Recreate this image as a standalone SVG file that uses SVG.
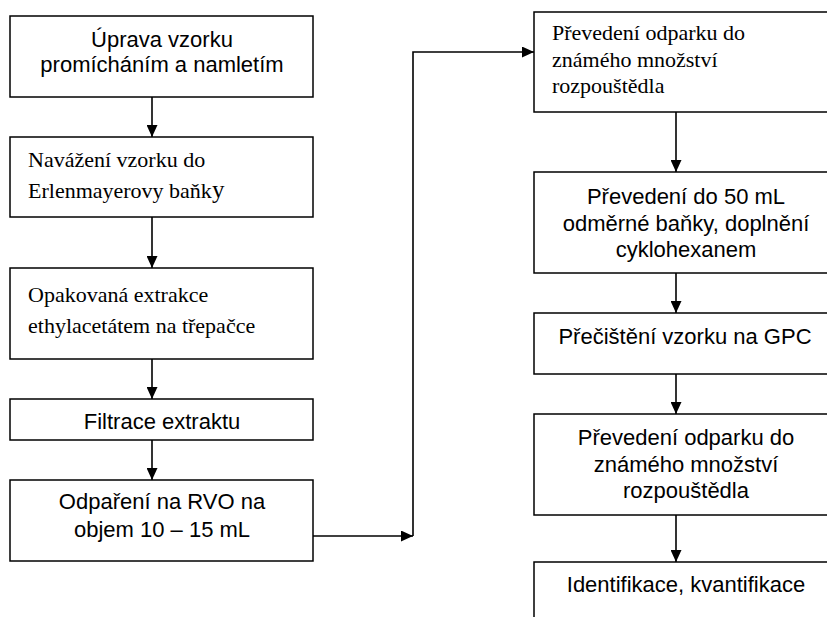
<svg xmlns="http://www.w3.org/2000/svg" width="827" height="617" viewBox="0 0 827 617">
<defs>
<style>
.box{fill:#fff;stroke:#000;stroke-width:1.5}
.conn{fill:none;stroke:#000;stroke-width:1.6}
.sans{font-family:"Liberation Sans",Arial,sans-serif;font-size:22px;fill:#000;text-anchor:middle}
.serif{font-family:"Liberation Serif","Times New Roman",serif;font-size:22px;fill:#000}
</style>
<marker id="arr" markerWidth="12" markerHeight="11" refX="12" refY="5.5" orient="auto" markerUnits="userSpaceOnUse">
<path d="M0,0 L12,5.5 L0,11 Z" fill="#000"/>
</marker>
</defs>
<rect width="827" height="617" fill="#fff"/>
<g id="connectors">
<line class="conn" x1="152" y1="97" x2="152" y2="137" marker-end="url(#arr)"/>
<line class="conn" x1="152" y1="217" x2="152" y2="268" marker-end="url(#arr)"/>
<line class="conn" x1="152" y1="359" x2="152" y2="399" marker-end="url(#arr)"/>
<line class="conn" x1="152" y1="440" x2="152" y2="480" marker-end="url(#arr)"/>
<polyline class="conn" points="313,536 413,536" marker-end="url(#arr)"/>
<polyline class="conn" points="413,536 413,52 534,52" marker-end="url(#arr)"/>
<line class="conn" x1="676" y1="112" x2="676" y2="172" marker-end="url(#arr)"/>
<line class="conn" x1="676" y1="273" x2="676" y2="313" marker-end="url(#arr)"/>
<line class="conn" x1="676" y1="374" x2="676" y2="414" marker-end="url(#arr)"/>
<line class="conn" x1="676" y1="515" x2="676" y2="562" marker-end="url(#arr)"/>
</g>
<g id="n1">
<rect class="box" x="10" y="16" width="303" height="81"/>
<text class="sans" x="162" y="47">Úprava vzorku</text>
<text class="sans" x="162" y="72">promícháním a namletím</text>
</g>
<g id="n2">
<rect class="box" x="10" y="137" width="303" height="80"/>
<text class="serif" x="28" y="167">Navážení vzorku do</text>
<text class="serif" x="28" y="198">Erlenmayerovy baňk<tspan font-size="25">y</tspan></text>
</g>
<g id="n3">
<rect class="box" x="10" y="268" width="303" height="91"/>
<text class="serif" x="28" y="302">Opakovaná extrakce</text>
<text class="serif" x="28" y="333">ethylacetátem na třepačce</text>
</g>
<g id="n4">
<rect class="box" x="10" y="399" width="303" height="41"/>
<text class="sans" x="162" y="429">Filtrace extraktu</text>
</g>
<g id="n5">
<rect class="box" x="10" y="480" width="303" height="81"/>
<text class="sans" x="162" y="509">Odpaření na RVO na</text>
<text class="sans" x="162" y="537">objem 10 – 15 mL</text>
</g>
<g id="n6">
<rect class="box" x="534" y="12" width="303" height="100"/>
<text class="serif" x="552" y="40">Převedení odparku do</text>
<text class="serif" x="552" y="67">známého množství</text>
<text class="serif" x="552" y="93">rozpouštědla</text>
</g>
<g id="n7">
<rect class="box" x="534" y="172" width="303" height="101"/>
<text class="sans" x="686" y="204">Převedení do 50 mL</text>
<text class="sans" x="686" y="230.5">odměrné baňky, doplnění</text>
<text class="sans" x="686" y="257">cyklohexanem</text>
</g>
<g id="n8">
<rect class="box" x="534" y="313" width="303" height="61"/>
<text class="sans" x="685" y="344">Přečištění vzorku na GPC</text>
</g>
<g id="n9">
<rect class="box" x="534" y="414" width="303" height="101"/>
<text class="sans" x="686" y="445">Převedení odparku do</text>
<text class="sans" x="686" y="471.5">známého množství</text>
<text class="sans" x="686" y="498">rozpouštědla</text>
</g>
<g id="n10">
<rect class="box" x="534" y="562" width="303" height="80"/>
<text class="sans" x="686" y="592">Identifikace, kvantifikace</text>
</g>
</svg>
